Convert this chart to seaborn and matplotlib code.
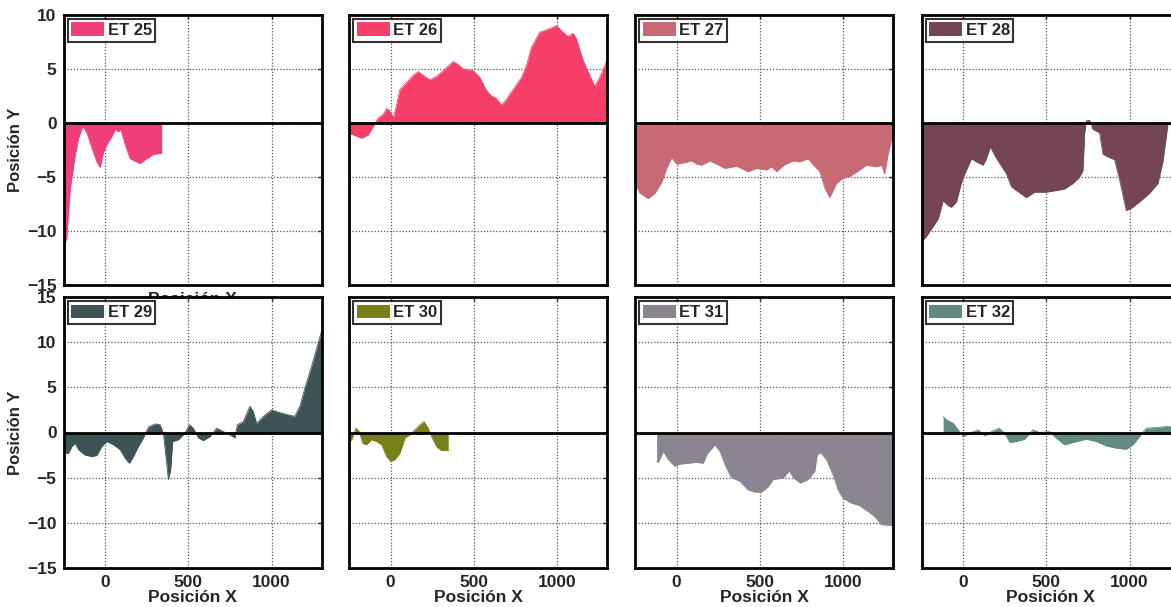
import numpy as np
import pandas as pd
import matplotlib
matplotlib.use("Agg")
import matplotlib.pyplot as plt
import seaborn as sns
from matplotlib.patches import Patch

# ===================== Data =====================
labels = ["ET 25", "ET 26", "ET 27", "ET 28", "ET 29", "ET 30", "ET 31", "ET 32"]
colors = ["#F03E7A", "#F53E68", "#C76A73", "#744654",
          "#3E5356", "#787F17", "#8A8590", "#628A80"]

et25_x = [-250, -230, -210, -180, -160, -134, -110, -80, -50, -30, -10, 10, 40, 60, 80, 94,
          120, 150, 210, 250, 290, 340]
et25_y = [-11.9, -10.5, -6.1, -3.0, -1.4, -0.3, -0.9, -2.3, -3.6, -4.1, -2.7, -2.0, -1.25, -0.6,
          -0.8, -0.6, -2.0, -3.3, -3.75, -3.3, -2.9, -2.8]

et26_x = [-250, -224, -174, -134, -104, -74, -44, -24, -4, 16, 36, 56, 96, 136, 166, 196, 236,
          276, 316, 376, 406, 436, 496, 536, 576, 606, 636, 666, 696, 736, 786, 816, 846, 896,
          956, 996, 1036, 1066, 1096, 1116, 1156, 1196, 1226, 1256, 1300]
et26_y = [-0.94, -1.1, -1.4, -1.1, -0.3, 0.47, 0.8, 1.35, 1.1, 0.47, 1.7, 3.1, 3.75, 4.4, 4.75,
          4.4, 4.0, 4.3, 4.85, 5.7, 5.4, 5.0, 4.85, 4.2, 3.0, 2.5, 2.25, 1.65, 2.2, 3.1, 4.2, 5.3,
          7.0, 8.4, 8.75, 9.0, 8.4, 8.0, 8.3, 7.8, 5.8, 4.4, 3.4, 4.2, 5.8]

et27_x = [-250, -220, -170, -130, -90, -60, -30, 0, 40, 90, 120, 150, 200, 240, 290, 360, 430,
          480, 540, 570, 600, 650, 700, 740, 790, 820, 860, 890, 920, 960, 1000, 1040, 1100,
          1140, 1200, 1230, 1250, 1270, 1300]
et27_y = [-5.6, -6.5, -7.0, -6.5, -5.5, -4.2, -3.2, -3.8, -3.7, -3.5, -3.8, -3.9, -3.5, -3.8,
          -4.2, -4.0, -4.5, -4.2, -4.35, -4.05, -4.5, -3.85, -3.5, -3.6, -3.3, -3.85, -4.5, -6.0,
          -6.9, -5.6, -5.1, -4.95, -4.35, -3.9, -4.05, -3.9, -4.7, -2.9, -1.0]

et28_x = [-250, -220, -190, -150, -120, -90, -70, -40, -10, 10, 50, 80, 120, 140, 164, 190, 220,
          260, 290, 320, 380, 430, 500, 560, 610, 660, 700, 720, 730, 740, 760, 780, 820, 840,
          880, 910, 940, 980, 1010, 1060, 1120, 1170, 1200, 1230, 1300]
et28_y = [-11.0, -10.5, -9.8, -8.9, -7.2, -7.65, -7.8, -7.3, -5.5, -4.7, -3.3, -3.6, -3.9, -3.3,
          -2.2, -3.0, -3.75, -4.7, -5.9, -6.25, -6.9, -6.4, -6.4, -6.25, -6.1, -5.6, -5.0, -4.4,
          -1.0, 0.2, 0.25, -0.6, -0.9, -2.9, -3.2, -3.4, -5.25, -8.1, -7.9, -7.3, -6.5, -5.6,
          -3.6, -0.15, 0.3]

et29_x = [-250, -244, -236, -220, -200, -180, -160, -120, -80, -50, -20, 10, 50, 90, 120, 146,
          170, 200, 230, 260, 300, 330, 350, 370, 380, 394, 406, 440, 480, 506, 530, 560, 590,
          630, 670, 710, 750, 780, 794, 830, 870, 890, 910, 950, 1000, 1050, 1100, 1140, 1170,
          1200, 1240, 1280, 1300]
et29_y = [0.85, 0.0, -2.3, -2.3, -1.55, -1.2, -1.9, -2.5, -2.65, -2.55, -1.55, -1.0, -1.35,
          -1.9, -2.85, -3.4, -2.65, -1.55, -0.6, 0.6, 0.95, 0.85, -0.07, -3.4, -5.2, -4.1, -1.0,
          -0.8, -0.07, 0.85, 0.48, -0.6, -0.9, -0.45, 0.48, 0.1, -0.25, -0.6, 0.85, 1.2, 2.9,
          2.3, 1.0, 1.77, 2.5, 2.2, 1.95, 1.8, 2.9, 4.9, 7.3, 9.9, 11.2]

et30_x = [-250, -234, -208, -188, -168, -144, -114, -84, -54, -24, 0, 26, 56, 86, 116, 146,
          176, 200, 226, 246, 276, 306, 346]
et30_y = [-1.0, -0.8, 0.48, 0.1, -1.2, -1.35, -0.8, -1.0, -1.35, -2.65, -3.2, -3.0, -2.3, -0.6,
          -0.25, 0.3, 0.85, 1.2, 0.48, -0.45, -1.55, -2.0, -2.0]

et31_x = [-120, -110, -80, -50, -10, 20, 70, 120, 160, 184, 230, 260, 300, 330, 380, 430, 470,
          510, 550, 580, 640, 676, 704, 744, 790, 830, 844, 864, 900, 940, 970, 1000, 1050,
          1100, 1150, 1190, 1230, 1300]
et31_y = [-3.2, -3.3, -2.1, -3.0, -3.75, -3.5, -3.4, -3.3, -3.4, -2.36, -1.37, -2.1, -3.95,
          -5.0, -5.4, -6.35, -6.6, -6.6, -6.0, -5.2, -5.05, -4.25, -5.05, -5.6, -5.2, -4.3, -2.5,
          -2.2, -3.0, -4.7, -6.35, -7.3, -7.8, -8.1, -8.75, -9.3, -10.2, -10.3]

et32_x = [-120, -100, -60, -30, 0, 40, 90, 130, 170, 216, 250, 280, 320, 370, 420, 460, 520,
          560, 610, 660, 740, 800, 860, 920, 980, 1020, 1060, 1100, 1160, 1220, 1300]
et32_y = [1.77, 1.4, 1.03, 0.3, -0.45, -0.07, 0.3, -0.37, 0.1, 0.48, -0.07, -1.1, -1.0, -0.74,
          0.3, 0.0, 0.1, -0.63, -1.37, -1.1, -0.74, -1.0, -1.48, -1.73, -1.85, -1.37, -0.45,
          0.48, 0.55, 0.66, 0.6]

series = [(et25_x, et25_y), (et26_x, et26_y), (et27_x, et27_y), (et28_x, et28_y),
          (et29_x, et29_y), (et30_x, et30_y), (et31_x, et31_y), (et32_x, et32_y)]

x_ticks = [0, 500, 1000]
y_ticks_top = [-15, -10, -5, 0, 5, 10]
y_ticks_bottom = [-15, -10, -5, 0, 5, 10, 15]

# ===================== Style =====================
sns.set_style("white")
plt.rcParams['font.family'] = ['Liberation Sans', 'DejaVu Sans']
plt.rcParams['font.weight'] = 'bold'
plt.rcParams['axes.labelweight'] = 'bold'

W, H = 1171, 607
fig = plt.figure(figsize=(W / 100, H / 100), dpi=100)
fig.patch.set_facecolor("white")

lefts = [63.5, 349.0, 635.0, 921.5]
ax_w = 258.0
rows = [(15.0, 285.0), (297.0, 568.0)]  # (top, bottom) in pixels

for i, (label, color, (xs, ys)) in enumerate(zip(labels, colors, series)):
    r, c = divmod(i, 4)
    top, bot = rows[r]
    ax = fig.add_axes([lefts[c] / W, (H - bot) / H, ax_w / W, (bot - top) / H])
    ax.set_zorder(r)  # bottom row covers the top-left x label
    df = pd.DataFrame({"x": xs, "y": ys})

    ax.fill_between(df["x"], 0, df["y"], color=color, linewidth=0, zorder=2)
    sns.lineplot(data=df, x="x", y="y", ax=ax, color=color, linewidth=0.6,
                 zorder=2, sort=False, estimator=None)
    ax.axhline(0, color="black", linewidth=2, zorder=3)

    ax.set_xlim(-250, 1300)
    if r == 0:
        ax.set_ylim(-15, 10)
        ax.set_yticks(y_ticks_top)
    else:
        ax.set_ylim(-15, 15)
        ax.set_yticks(y_ticks_bottom)
    ax.set_xticks(x_ticks)

    ax.grid(True, linestyle=(0, (1, 1.5)), color="#555555", linewidth=0.9, zorder=1)
    ax.set_axisbelow(True)
    ax.tick_params(direction="in", length=3, width=1, top=True, right=True,
                   labelsize=12.5, pad=5)
    for s in ax.spines.values():
        s.set_linewidth(2)
        s.set_color("black")
        s.set_zorder(4)

    if r == 0:
        ax.tick_params(labelbottom=False)
    if c != 0:
        ax.tick_params(labelleft=False)
        ax.set_ylabel("")
    else:
        ax.set_ylabel("Posición Y", fontsize=12, fontweight="bold", labelpad=3)
    if r == 1:
        ax.set_xlabel("Posición X", fontsize=12.5, fontweight="bold", labelpad=0)
    elif c == 0:
        ax.set_xlabel("Posición X", fontsize=12.5, fontweight="bold", labelpad=5)
    else:
        ax.set_xlabel("")

    handle = Patch(facecolor=color, edgecolor="none")
    leg = ax.legend([handle], [label], loc="upper left",
                    prop={"weight": "bold", "size": 12}, frameon=True, fancybox=False,
                    handlelength=2.0, handleheight=0.9, handletextpad=0.2,
                    borderpad=0.2, borderaxespad=0.25)
    leg.get_frame().set_edgecolor("black")
    leg.get_frame().set_linewidth(1.5)
    leg.set_zorder(5)

fig.savefig("out.png", dpi=100, facecolor="white")
